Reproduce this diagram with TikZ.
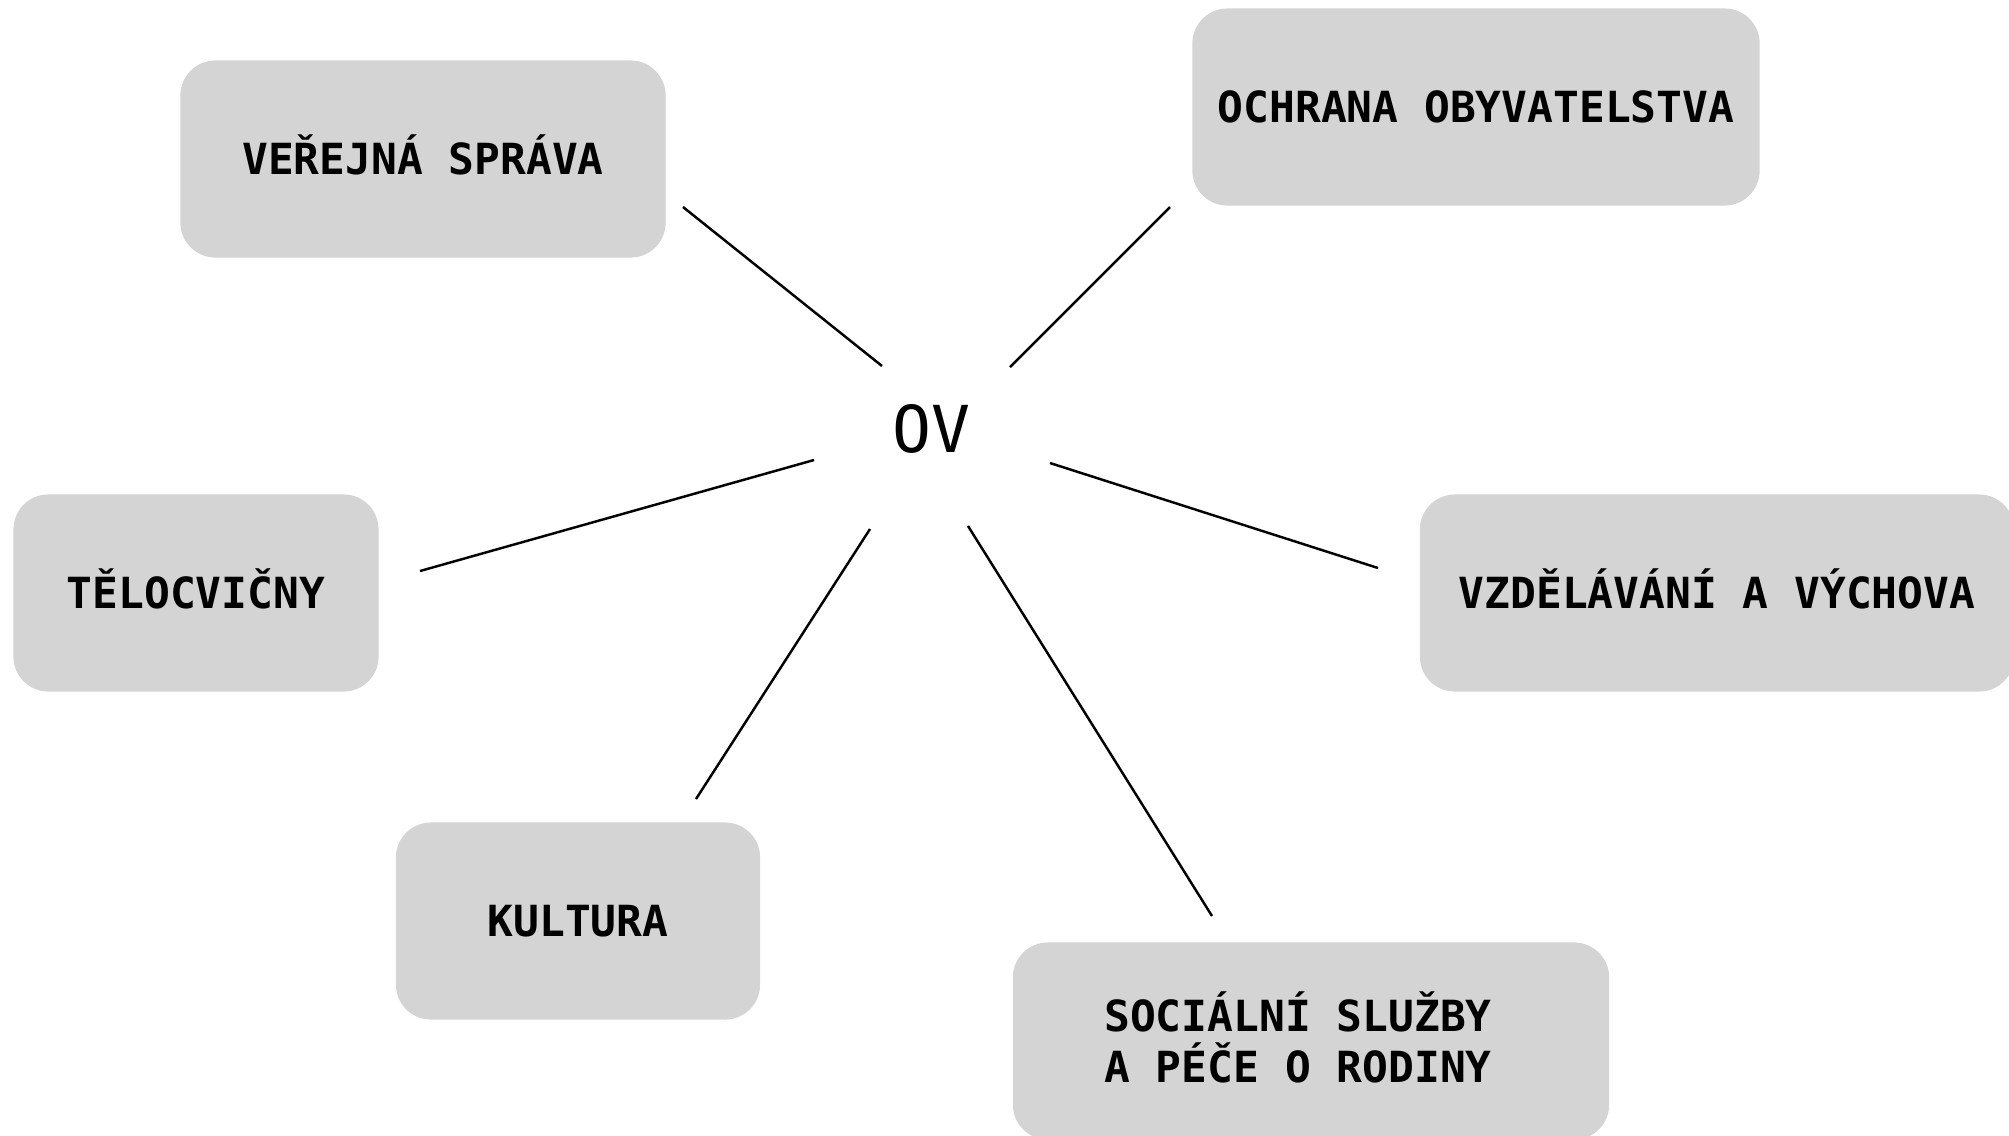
\documentclass[tikz,border=0pt]{standalone}
\usepackage{fontspec}
\setmonofont{DejaVu Sans Mono}
\definecolor{boxgray}{RGB}{212,212,212}

\begin{document}
\begin{tikzpicture}[x=0.01cm, y=-0.01cm,
    oblast/.style={fill=boxgray, rounded corners=0.35cm, minimum height=1.97cm,
        align=center, text height=8.9pt, text depth=0pt,
        font=\ttfamily\bfseries\fontsize{12.2}{14.5}\selectfont},
    spoj/.style={line width=0.7pt}]
    \useasboundingbox (0,0) rectangle (2009,1135);
    % center
    \node (ov) at (931,429) {\ttfamily\fontsize{18.4}{20}\selectfont OV};
    % boxes
    \node[oblast, minimum width=4.85cm] (sprava) at (423,159) {VEŘEJNÁ SPRÁVA};
    \node[oblast, minimum width=5.67cm] (ochrana) at (1476,107) {OCHRANA OBYVATELSTVA};
    \node[oblast, minimum width=3.65cm] (telocvicny) at (196,593) {TĚLOCVIČNY};
    \node[oblast, minimum width=5.94cm] (vzdelavani) at (1717,593) {VZDĚLÁVÁNÍ A VÝCHOVA};
    \node[oblast, minimum width=3.64cm] (kultura) at (578,921) {KULTURA};
    \node[oblast, minimum width=5.96cm, text height=23.4pt] (socialni) at (1311,1041)
        {SOCIÁLNÍ SLUŽBY\hspace*{0.26cm}\\A PÉČE O RODINY\hspace*{0.26cm}};
    % line ends
    \coordinate (sprava-e) at (683,207);   \coordinate (ov-sprava) at (882,366);
    \coordinate (ochrana-e) at (1170,207); \coordinate (ov-ochrana) at (1010,367);
    \coordinate (telocvicny-e) at (420,571); \coordinate (ov-telocvicny) at (814,460);
    \coordinate (vzdelavani-e) at (1378,568); \coordinate (ov-vzdelavani) at (1050,463);
    \coordinate (kultura-e) at (696,799);  \coordinate (ov-kultura) at (870,529);
    \coordinate (socialni-e) at (1212,916); \coordinate (ov-socialni) at (968,526);
    \foreach \o in {sprava, ochrana, telocvicny, vzdelavani, kultura, socialni}
        \draw[spoj] (ov-\o) -- (\o-e);
\end{tikzpicture}
\end{document}
